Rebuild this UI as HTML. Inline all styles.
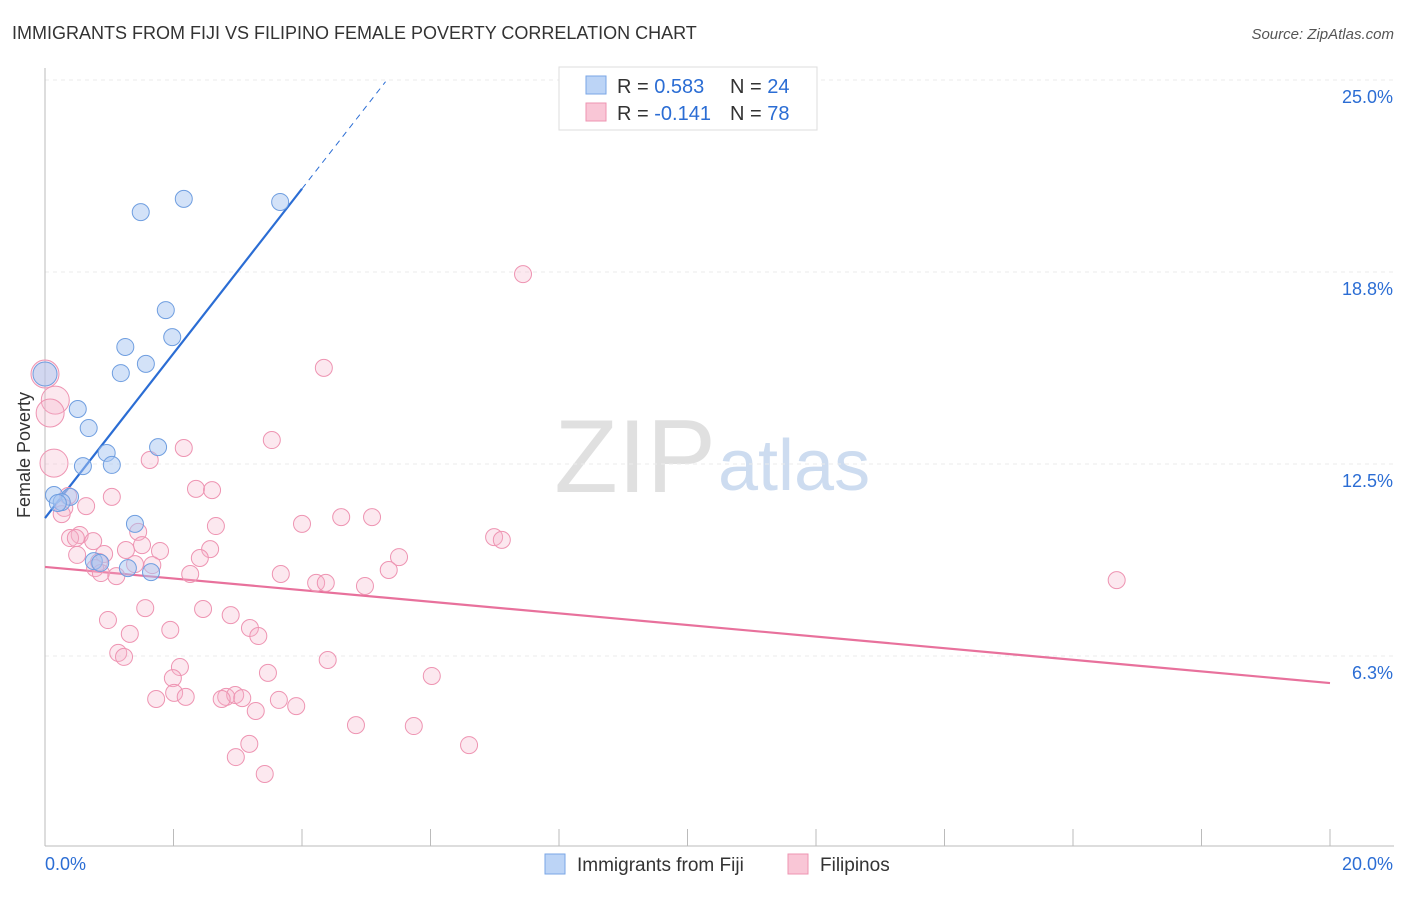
<!DOCTYPE html>
<html><head><meta charset="utf-8"><style>
body{margin:0;background:#fff;font-family:"Liberation Sans",sans-serif;}
svg text{font-family:"Liberation Sans",sans-serif;}
</style></head><body>
<svg width="1406" height="892">
<text x="12" y="39" font-size="18" fill="#333">IMMIGRANTS FROM FIJI VS FILIPINO FEMALE POVERTY CORRELATION CHART</text>
<text x="1394" y="39" font-size="15" fill="#555" font-style="italic" text-anchor="end">Source: ZipAtlas.com</text>
<text x="716" y="492" font-size="104" fill="#e0e0e0" text-anchor="end" font-family="Liberation Serif">ZIP</text>
<text x="718" y="490" font-size="72" fill="#cddcf0">atlas</text>
<g id="grid"></g><g id="axes"></g><g id="lines"></g><g id="pts"></g>
<text x="30" y="455" font-size="18" fill="#333" transform="rotate(-90 30 455)" text-anchor="middle">Female Poverty</text>
<g>
<rect x="559" y="67" width="258" height="63" fill="#fff" stroke="#ddd"/>
<rect x="586" y="76" width="20" height="18" fill="#bcd4f6" stroke="#7aa6e6"/>
<rect x="586" y="103" width="20" height="18" fill="#f9c6d6" stroke="#ee94b2"/>
<text x="617" y="93" font-size="20" fill="#333">R = <tspan fill="#2b6dd4">0.583</tspan></text>
<text x="730" y="93" font-size="20" fill="#333">N = <tspan fill="#2b6dd4">24</tspan></text>
<text x="617" y="120" font-size="20" fill="#333">R = <tspan fill="#2b6dd4">-0.141</tspan></text>
<text x="730" y="120" font-size="20" fill="#333">N = <tspan fill="#2b6dd4">78</tspan></text>
</g>
<g>
<rect x="545" y="854" width="20" height="20" fill="#bcd4f6" stroke="#7aa6e6"/>
<text x="577" y="871" font-size="19" fill="#333">Immigrants from Fiji</text>
<rect x="788" y="854" width="20" height="20" fill="#f9c6d6" stroke="#ee94b2"/>
<text x="820" y="871" font-size="19" fill="#333">Filipinos</text>
</g>
</svg>
<script>
const xTicks=[0,2,4,6,8,10,12,14,16,18,20];
const yTicks=[6.25,12.5,18.75,25];
const yTickLabels=["6.3%","12.5%","18.8%","25.0%"];
const fijiX=[1.49,2.16,3.66,1.88,1.98,1.25,1.57,1.18,0,0.51,0.68,1.76,0.96,0.59,1.04,0.14,0.39,0.26,1.40,0.76,0.86,1.29,1.65,0.20];
const fijiY=[20.70,21.13,21.03,17.51,16.63,16.31,15.76,15.46,15.43,14.29,13.67,13.05,12.86,12.43,12.47,11.49,11.43,11.26,10.55,9.34,9.28,9.11,8.98,11.23];
const filX=[7.44,4.34,0,0.16,0.08,3.53,2.16,0.14,1.63,2.35,2.60,0.36,1.04,0.30,0.64,0.26,2.66,4.00,4.61,5.09,1.45,0.54,0.39,0.75,6.99,7.11,0.48,1.26,1.79,0.50,0.92,2.57,2.41,1.51,5.51,0.84,0.78,1.40,1.67,5.35,2.26,3.67,0.87,1.11,4.22,4.37,4.98,16.68,1.56,2.46,2.89,0.98,3.19,1.95,1.32,3.32,1.14,1.23,4.40,2.10,3.47,1.99,6.02,2.01,2.19,1.73,2.82,2.96,3.07,2.75,3.64,3.91,3.28,4.84,5.74,3.18,6.60,2.97,3.42];
const filY=[18.68,15.63,15.43,14.58,14.16,13.28,13.02,12.53,12.63,11.69,11.65,11.46,11.43,11.07,11.13,10.87,10.48,10.55,10.77,10.77,10.29,10.19,10.09,9.99,10.12,10.03,10.09,9.70,9.67,9.54,9.57,9.73,9.44,9.86,9.47,9.31,9.11,9.24,9.21,9.05,8.92,8.92,8.95,8.85,8.63,8.63,8.53,8.72,7.81,7.78,7.58,7.42,7.16,7.10,6.97,6.90,6.35,6.22,6.12,5.89,5.70,5.53,5.60,5.05,4.92,4.85,4.92,4.98,4.88,4.85,4.82,4.62,4.46,4.00,3.97,3.39,3.35,2.96,2.41];
const fijiTrend=[10.74,2.68];
const filTrend=[9.15,-0.189];
const X=v=>45+v*64.25, Y=v=>848-v*30.72;
const NS="http://www.w3.org/2000/svg";
function mk(p,t,a){const e=document.createElementNS(NS,t);for(const k in a)e.setAttribute(k,a[k]);document.getElementById(p).appendChild(e);return e;}
yTicks.forEach((t,i)=>{
 const g=mk('grid','line',{x1:45,x2:1394,y1:Y(t),y2:Y(t),stroke:'#ebebeb','stroke-dasharray':'4,4'});
 
 
 const l=mk('grid','text',{x:1393,y:Y(t)+23,'font-size':18,fill:'#2b6dd4','text-anchor':'end'});
 l.textContent=yTickLabels[i];
 
 
});
const ax=mk('axes','line',{x1:45,x2:1394,y1:846,y2:846,stroke:'#bbb'});


const ay=mk('axes','line',{x1:45,x2:45,y1:68,y2:846,stroke:'#bbb'});


xTicks.forEach(t=>{const e=mk('axes','line',{x1:X(t),x2:X(t),y1:829,y2:846,stroke:'#bbb'});
 
 });
const xl0=mk('axes','text',{x:45,y:870,'font-size':18,fill:'#2b6dd4'});xl0.textContent=xTicks[0].toFixed(1)+'%';


const xl1=mk('axes','text',{x:1393,y:870,'font-size':18,fill:'#2b6dd4','text-anchor':'end'});xl1.textContent=xTicks[xTicks.length-1].toFixed(1)+'%';


const bt=v=>fijiTrend[0]+fijiTrend[1]*v, pt=v=>filTrend[0]+filTrend[1]*v;
const b1=mk('lines','line',{x1:X(0),y1:Y(bt(0)),x2:X(4),y2:Y(bt(4)),stroke:'#2b6dd4','stroke-width':2.2});


const b2=mk('lines','line',{x1:X(4),y1:Y(bt(4)),x2:X(5.3),y2:Y(bt(5.3)),stroke:'#2b6dd4','stroke-width':1,'stroke-dasharray':'6,5'});


const p1=mk('lines','line',{x1:X(0),y1:Y(pt(0)),x2:X(20),y2:Y(pt(20)),stroke:'#e8719c','stroke-width':2.2});


filX.forEach((x,i)=>{const r=(x===0||(x<0.2&&filY[i]>12))?14:8.5;
 const c=mk('pts','circle',{cx:X(x),cy:Y(filY[i]),r:r,fill:'rgba(246,180,202,0.3)',stroke:'#ee94b2','stroke-width':1});
 
 });
fijiX.forEach((x,i)=>{const r=x===0?12:8.5;
 const c=mk('pts','circle',{cx:X(x),cy:Y(fijiY[i]),r:r,fill:'rgba(168,198,242,0.5)',stroke:'#6f9ee0','stroke-width':1});
 
 });
</script>
</body></html>
